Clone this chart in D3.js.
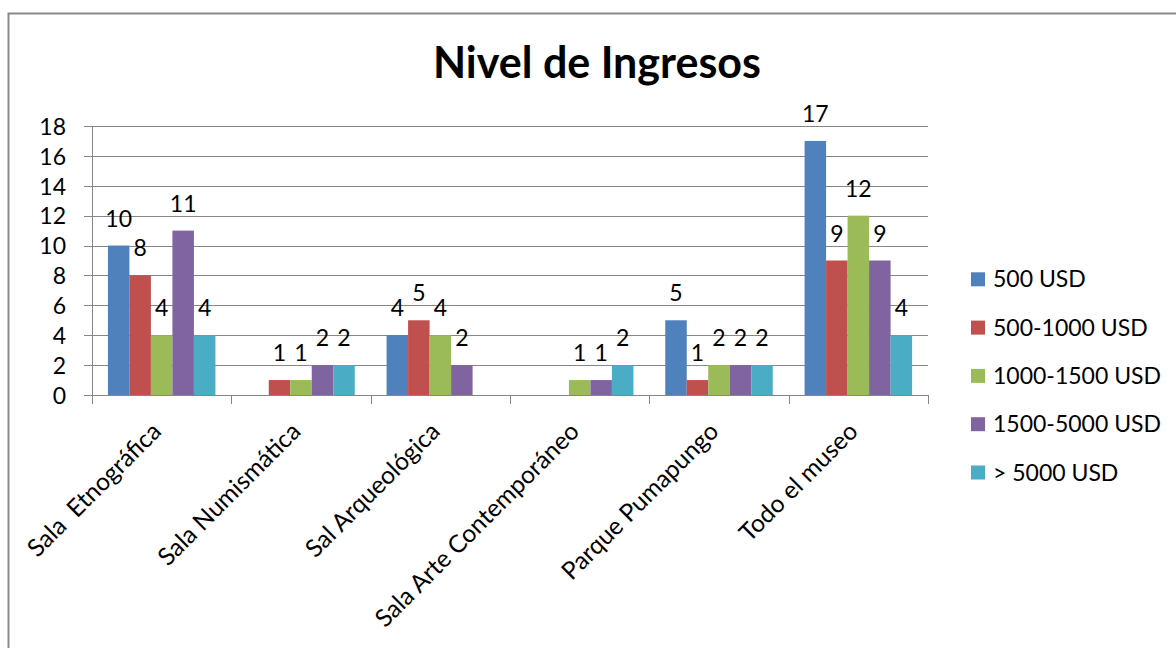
<!DOCTYPE html>
<html>
<head>
<meta charset="utf-8">
<script src="https://cdnjs.cloudflare.com/ajax/libs/d3/7.8.5/d3.min.js"></script>
<style>
  body { margin: 0; background: #fff; }
  text { font-family: Lato, "Open Sans", sans-serif; fill: #000; }
</style>
</head>
<body>
<div id="chart"></div>
<script>
var categories = ["Sala  Etnográfica", "Sala Numismática", "Sal Arqueológica", "Sala Arte Contemporáneo", "Parque Pumapungo", "Todo el museo"];
var seriesNames = ["500 USD", "500-1000 USD", "1000-1500 USD", "1500-5000 USD", "> 5000 USD"];
var usd500 = [10, null, 4, null, 5, 17];
var usd500_1000 = [8, 1, 5, null, 1, 9];
var usd1000_1500 = [4, 1, 4, 1, 2, 12];
var usd1500_5000 = [11, 2, 2, 1, 2, 9];
var usd5000plus = [4, 2, null, 2, 2, 4];
var yTicks = [0, 2, 4, 6, 8, 10, 12, 14, 16, 18];
var colors = ["#4F81BD", "#C0504D", "#9BBB59", "#8064A2", "#4BACC6"];

var seriesValues = [usd500, usd500_1000, usd1000_1500, usd1500_5000, usd5000plus];

var w = 1176, h = 648;
var plotLeft = 92, plotRight = 928, plotTop = 126, plotBottom = 395;

var svg = d3.select("#chart").append("svg")
  .attr("width", w)
  .attr("height", h);

// outer frame
svg.append("rect")
  .attr("x", 8.5).attr("y", 13.5)
  .attr("width", 1200).attr("height", 700)
  .attr("fill", "none")
  .attr("stroke", "#8a8a8a")
  .attr("stroke-width", 2);

svg.append("text")
  .attr("x", 597).attr("y", 78)
  .attr("text-anchor", "middle")
  .style("font-size", "43px")
  .style("font-weight", "bold")
  .text("Nivel de Ingresos");

var y = d3.scaleLinear().domain([0, 18]).range([plotBottom, plotTop]);
var x0 = d3.scaleBand().domain(categories).range([plotLeft, plotRight]).paddingInner(0.2285).paddingOuter(0.11425);
var x1 = d3.scaleBand().domain(seriesNames).range([0, x0.bandwidth()]);

// gridlines
svg.append("g")
  .selectAll("line")
  .data(yTicks)
  .enter().append("line")
  .attr("x1", plotLeft - 8).attr("x2", plotRight)
  .attr("y1", function(d) { return Math.round(y(d)) + 0.5; })
  .attr("y2", function(d) { return Math.round(y(d)) + 0.5; })
  .attr("stroke", "#868686")
  .attr("stroke-width", 1);

// y axis
var yaxis = svg.append("g")
  .attr("transform", "translate(" + plotLeft + ",0)")
  .call(d3.axisLeft(y).tickValues(yTicks).tickSize(0).tickPadding(26));
yaxis.select(".domain").remove();
yaxis.selectAll("text")
  .style("font-size", "23px")
  .attr("dy", "0.36em");

svg.append("line")
  .attr("x1", plotLeft + 0.5).attr("x2", plotLeft + 0.5)
  .attr("y1", plotTop).attr("y2", plotBottom + 9)
  .attr("stroke", "#868686");

// x axis ticks at category boundaries
var step = x0.step();
var bounds = d3.range(categories.length + 1).map(function(i) { return plotLeft + i * step; });
svg.append("g")
  .selectAll("line")
  .data(bounds)
  .enter().append("line")
  .attr("x1", function(d) { return Math.round(d) + 0.5; })
  .attr("x2", function(d) { return Math.round(d) + 0.5; })
  .attr("y1", plotBottom).attr("y2", plotBottom + 9)
  .attr("stroke", "#868686");

// bars
var groups = svg.append("g")
  .selectAll("g")
  .data(seriesNames)
  .enter().append("g")
  .attr("fill", function(d, i) { return colors[i]; });

groups.each(function(name, si) {
  var vals = seriesValues[si].map(function(v, ci) { return {cat: categories[ci], v: v}; })
    .filter(function(d) { return d.v !== null; });
  var g = d3.select(this);
  g.selectAll("rect")
    .data(vals)
    .enter().append("rect")
    .attr("x", function(d) { return x0(d.cat) + x1(name); })
    .attr("y", function(d) { return y(d.v); })
    .attr("width", x1.bandwidth())
    .attr("height", function(d) { return y(0) - y(d.v); });
  g.selectAll("text")
    .data(vals)
    .enter().append("text")
    .attr("x", function(d) { return x0(d.cat) + x1(name) + x1.bandwidth() / 2; })
    .attr("y", function(d) { return y(d.v) - 19; })
    .attr("text-anchor", "middle")
    .style("font-size", "23px")
    .style("fill", "#000")
    .text(function(d) { return d.v; });
});

// category labels
svg.append("g")
  .selectAll("text")
  .data(categories)
  .enter().append("text")
  .attr("transform", function(d) {
    return "translate(" + (x0(d) + x0.bandwidth() / 2 + 1) + "," + 433 + ") rotate(-45)";
  })
  .attr("text-anchor", "end")
  .style("font-size", "24.5px")
  .style("white-space", "pre")
  .text(function(d) { return d; });

// legend
var legend = svg.append("g")
  .selectAll("g")
  .data(seriesNames)
  .enter().append("g")
  .attr("transform", function(d, i) { return "translate(971," + (279.3 + i * 48.3) + ")"; });
legend.append("rect")
  .attr("x", 0).attr("y", -7)
  .attr("width", 14).attr("height", 14)
  .attr("fill", function(d, i) { return colors[i]; });
legend.append("text")
  .attr("x", 22).attr("y", 8)
  .style("font-size", "23px")
  .style("white-space", "pre")
  .text(function(d) { return d; });
</script>
</body>
</html>
